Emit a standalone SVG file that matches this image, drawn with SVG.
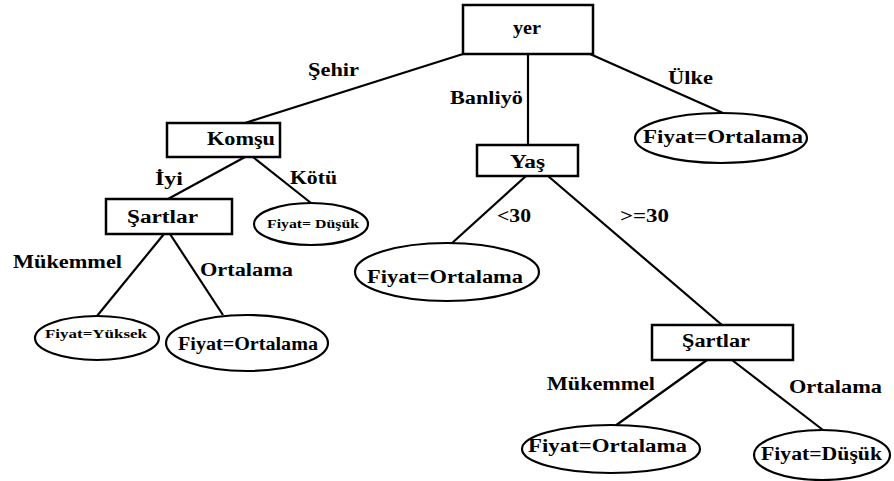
<svg xmlns="http://www.w3.org/2000/svg" width="894" height="481" viewBox="0 0 894 481">
<style>
text{font-family:"Liberation Serif","Times New Roman",serif;font-weight:bold;fill:#000}
.n{font-size:18px}
.s1{font-size:13.5px}
.s2{font-size:12.5px}
rect{fill:#fff;stroke:#000;stroke-width:2.5}
ellipse{fill:#fff;stroke:#000;stroke-width:2.2}
.c line{stroke:#000;stroke-width:2.2}
</style>
<rect width="894" height="481" fill="#fff" style="stroke:none"/>
<g id="connectors" class="c">
<line x1="463" y1="54" x2="245" y2="123"/>
<line x1="528" y1="54" x2="528" y2="145"/>
<line x1="590" y1="54" x2="723" y2="113"/>
<line x1="245" y1="157" x2="168" y2="199"/>
<line x1="253" y1="157" x2="311" y2="203"/>
<line x1="164" y1="234" x2="97" y2="316"/>
<line x1="170" y1="234" x2="223" y2="315"/>
<line x1="526" y1="176" x2="451" y2="244"/>
<line x1="548" y1="176" x2="722" y2="325"/>
<line x1="707" y1="360" x2="615" y2="426"/>
<line x1="732" y1="360" x2="823" y2="430"/>
</g>
<g id="edge-labels">
<text class="n" x="308" y="76" textLength="51" lengthAdjust="spacingAndGlyphs">Şehir</text>
<text class="n" x="450" y="104" textLength="73" lengthAdjust="spacingAndGlyphs">Banliyö</text>
<text class="n" x="668" y="84" textLength="45" lengthAdjust="spacingAndGlyphs">Ülke</text>
<text class="n" x="155" y="185" textLength="28" lengthAdjust="spacingAndGlyphs">İyi</text>
<text class="n" x="290" y="184" textLength="47" lengthAdjust="spacingAndGlyphs">Kötü</text>
<text class="n" x="13" y="268" textLength="109" lengthAdjust="spacingAndGlyphs">Mükemmel</text>
<text class="n" x="200" y="276" textLength="93" lengthAdjust="spacingAndGlyphs">Ortalama</text>
<text class="n" x="497" y="222" textLength="34" lengthAdjust="spacingAndGlyphs">&lt;30</text>
<text class="n" x="620" y="222" textLength="49" lengthAdjust="spacingAndGlyphs">&gt;=30</text>
<text class="n" x="547" y="390" textLength="108" lengthAdjust="spacingAndGlyphs">Mükemmel</text>
<text class="n" x="789" y="393" textLength="93" lengthAdjust="spacingAndGlyphs">Ortalama</text>
</g>
<g id="yer">
<rect x="463" y="5" width="130" height="49"/>
<text class="n" x="513" y="34" textLength="28" lengthAdjust="spacingAndGlyphs">yer</text>
</g>
<g id="komsu">
<rect x="167" y="123" width="113" height="34"/>
<text class="n" x="207" y="145" textLength="68" lengthAdjust="spacingAndGlyphs">Komşu</text>
</g>
<g id="yas">
<rect x="477" y="145" width="101" height="31"/>
<text class="n" x="510" y="168" textLength="35" lengthAdjust="spacingAndGlyphs">Yaş</text>
</g>
<g id="ulke-leaf">
<ellipse cx="721" cy="138" rx="86" ry="25"/>
<text class="n" x="643" y="143" textLength="160" lengthAdjust="spacingAndGlyphs">Fiyat=Ortalama</text>
</g>
<g id="sartlar-left">
<rect x="106" y="199" width="126" height="35"/>
<text class="n" x="127" y="223" textLength="71" lengthAdjust="spacingAndGlyphs">Şartlar</text>
</g>
<g id="kotu-leaf">
<ellipse cx="311" cy="224" rx="57" ry="21"/>
<text class="s2" x="267" y="228" textLength="92" lengthAdjust="spacingAndGlyphs">Fiyat= Düşük</text>
</g>
<g id="yuksek-leaf">
<ellipse cx="97" cy="338" rx="62" ry="22"/>
<text class="s1" x="45" y="338" textLength="102" lengthAdjust="spacingAndGlyphs">Fiyat=Yüksek</text>
</g>
<g id="ortalama-left-leaf">
<ellipse cx="247" cy="343" rx="81" ry="28"/>
<text class="n" x="178" y="350" textLength="140" lengthAdjust="spacingAndGlyphs">Fiyat=Ortalama</text>
</g>
<g id="lt30-leaf">
<ellipse cx="447" cy="272" rx="92" ry="29"/>
<text class="n" x="367" y="283" textLength="156" lengthAdjust="spacingAndGlyphs">Fiyat=Ortalama</text>
</g>
<g id="sartlar-right">
<rect x="652" y="325" width="141" height="35"/>
<text class="n" x="682" y="347" textLength="68" lengthAdjust="spacingAndGlyphs">Şartlar</text>
</g>
<g id="mukemmel-right-leaf">
<ellipse cx="611" cy="449" rx="89" ry="24"/>
<text class="n" x="528" y="452" textLength="159" lengthAdjust="spacingAndGlyphs">Fiyat=Ortalama</text>
</g>
<g id="dusuk-right-leaf">
<ellipse cx="822" cy="455" rx="68" ry="25"/>
<text class="n" x="761" y="460" textLength="121" lengthAdjust="spacingAndGlyphs">Fiyat=Düşük</text>
</g>
</svg>
